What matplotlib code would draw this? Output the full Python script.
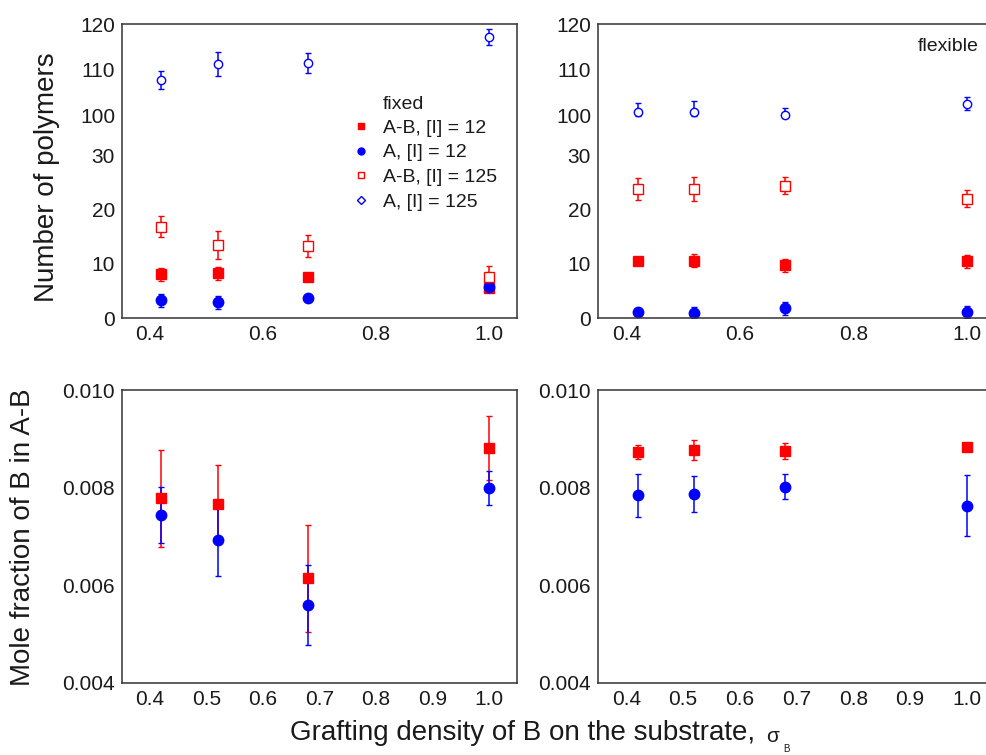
import numpy as np
import matplotlib
matplotlib.use('Agg')
import matplotlib.pyplot as plt
from matplotlib.lines import Line2D

plt.rcParams['font.family'] = ['Liberation Sans', 'DejaVu Sans']

# grafting density of B on the substrate
sigma = [0.42, 0.52, 0.68, 1.0]

# number of polymers, fixed substrate
fix_ab12 = [8.1, 8.3, 7.6, 5.5]
fix_ab12_err = [1.2, 1.2, 0.3, 0.4]
fix_a12 = [3.3, 2.9, 3.7, 5.7]
fix_a12_err = [1.2, 1.2, 0.5, 0.6]
fix_ab125 = [16.9, 13.5, 13.3, 7.6]
fix_ab125_err = [2.0, 2.6, 2.0, 2.0]
fix_a125 = [107.8, 111.3, 111.5, 117.2]
fix_a125_err = [2.0, 2.6, 2.2, 1.8]

# number of polymers, flexible substrate
flex_ab12 = [10.5, 10.6, 9.8, 10.5]
flex_ab12_err = [0.3, 1.2, 1.2, 1.2]
flex_a12 = [1.1, 1.0, 1.8, 1.1]
flex_a12_err = [0.4, 1.1, 1.2, 1.1]
flex_ab125 = [23.9, 23.9, 24.5, 22.1]
flex_ab125_err = [2.0, 2.2, 1.5, 1.5]
flex_a125 = [100.8, 100.8, 100.1, 102.6]
flex_a125_err = [2.0, 2.3, 1.5, 1.5]

# mole fraction of B in A-B
molf_fix_ab = [0.00778, 0.00767, 0.00614, 0.00881]
molf_fix_ab_err = [0.0010, 0.0008, 0.0011, 0.00065]
molf_fix_a = [0.00744, 0.00692, 0.00560, 0.00799]
molf_fix_a_err = [0.00057, 0.00073, 0.00082, 0.00035]
molf_flex_ab = [0.00873, 0.00877, 0.00875, 0.00883]
molf_flex_ab_err = [0.00015, 0.00021, 0.00016, 0.00004]
molf_flex_a = [0.00784, 0.00787, 0.00802, 0.00763]
molf_flex_a_err = [0.00044, 0.00036, 0.00026, 0.00062]

count_ticks = [0, 10, 20, 30, 100, 110, 120]
molf_ticks = [0.004, 0.006, 0.008, 0.010]

RED = '#ff0000'
BLUE = '#0000ff'
TXT = '#1a1a1a'

# broken y axis: 0-30 linear, then 100-120 squeezed
GAP = 7.46
UP = 0.8463


def fwd(v):
    v = np.asarray(v, dtype=float)
    mid = 30 + (v - 30) * GAP / 70.
    hi = 30 + GAP + (v - 100) * UP
    return np.where(v <= 30, v, np.where(v < 100, mid, hi))


def inv(u):
    u = np.asarray(u, dtype=float)
    mid = 30 + (u - 30) * 70. / GAP
    hi = 100 + (u - 30 - GAP) / UP
    return np.where(u <= 30, u, np.where(u < 30 + GAP, mid, hi))


def style(ax):
    for s in ax.spines.values():
        s.set_color('#333333')
        s.set_linewidth(1.1)
    ax.tick_params(length=0, labelsize=15, labelcolor=TXT, pad=5)
    ax.set_xlim(0.35, 1.05)


def series(ax, y, err, color, marker, filled, ms):
    ax.errorbar(sigma, y, yerr=err, fmt=marker, color=color, ecolor=color,
                elinewidth=1.1, capsize=2.5, capthick=1.1, ms=ms,
                mfc=color if filled else 'white', mec=color, mew=1.0,
                linestyle='none')


fig = plt.figure(figsize=(9.86, 7.55), dpi=100)
ax1 = fig.add_axes([0.1237, 0.5788, 0.4006, 0.3894])
ax2 = fig.add_axes([0.6065, 0.5788, 0.4026, 0.3894])
ax3 = fig.add_axes([0.1237, 0.0954, 0.4006, 0.3880])
ax4 = fig.add_axes([0.6065, 0.0954, 0.4026, 0.3880])

for ax in (ax1, ax2):
    ax.set_yscale('function', functions=(fwd, inv))
    ax.set_ylim(0, 120)
    ax.set_yticks(count_ticks)
    ax.set_yticklabels([str(t) for t in count_ticks])
    ax.set_xticks([0.4, 0.6, 0.8, 1.0])
    ax.set_xticklabels(['0.4', '0.6', '0.8', '1.0'])
    style(ax)

series(ax1, fix_ab12, fix_ab12_err, RED, 's', True, 7)
series(ax1, fix_a12, fix_a12_err, BLUE, 'o', True, 7.5)
series(ax1, fix_ab125, fix_ab125_err, RED, 's', False, 6.5)
series(ax1, fix_a125, fix_a125_err, BLUE, 'o', False, 6)

series(ax2, flex_ab12, flex_ab12_err, RED, 's', True, 7)
series(ax2, flex_a12, flex_a12_err, BLUE, 'o', True, 7.5)
series(ax2, flex_ab125, flex_ab125_err, RED, 's', False, 6.5)
series(ax2, flex_a125, flex_a125_err, BLUE, 'o', False, 6)

# legend for the fixed case
handles = [
    Line2D([], [], marker='s', ls='none', color=RED, mfc=RED, ms=5),
    Line2D([], [], marker='o', ls='none', color=BLUE, mfc=BLUE, ms=5),
    Line2D([], [], marker='s', ls='none', color=RED, mfc='white', ms=5),
    Line2D([], [], marker='D', ls='none', color=BLUE, mfc='white', ms=4),
]
labels = ['A-B, [I] = 12', 'A, [I] = 12', 'A-B, [I] = 125', 'A, [I] = 125']
ax1.legend(handles, labels, loc='upper left', bbox_to_anchor=(0.585, 0.676),
           frameon=False, fontsize=14, handlelength=0.8, handletextpad=0.73,
           labelspacing=0.36, borderpad=0, borderaxespad=0,
           labelcolor=TXT)
ax1.text(0.661, 0.727, 'fixed', transform=ax1.transAxes, fontsize=14,
         color=TXT, va='center', ha='left')
ax2.text(0.96, 0.925, 'flexible', transform=ax2.transAxes, fontsize=14,
         color=TXT, va='center', ha='right')

for ax in (ax3, ax4):
    ax.set_ylim(0.004, 0.010)
    ax.set_yticks(molf_ticks)
    ax.set_yticklabels(['%.3f' % t for t in molf_ticks])
    ax.set_xticks([0.4, 0.5, 0.6, 0.7, 0.8, 0.9, 1.0])
    ax.set_xticklabels(['0.4', '0.5', '0.6', '0.7', '0.8', '0.9', '1.0'])
    style(ax)

series(ax3, molf_fix_ab, molf_fix_ab_err, RED, 's', True, 7)
series(ax3, molf_fix_a, molf_fix_a_err, BLUE, 'o', True, 7.5)
series(ax4, molf_flex_ab, molf_flex_ab_err, RED, 's', True, 7)
series(ax4, molf_flex_a, molf_flex_a_err, BLUE, 'o', True, 7.5)

fig.text(47 / 986., 1 - 177 / 755., 'Number of polymers', rotation=90,
         ha='center', va='center', fontsize=20, color=TXT)
fig.text(23 / 986., 1 - 537 / 755., 'Mole fraction of B in A-B', rotation=90,
         ha='center', va='center', fontsize=20, color=TXT)
fig.text(290 / 986., 1 - 740 / 755., 'Grafting density of B on the substrate,',
         ha='left', va='baseline', fontsize=20, color=TXT)
fig.text(766 / 986., 1 - 742 / 755., '\u03c3', ha='left', va='baseline',
         fontsize=15, color=TXT)
fig.text(783 / 986., 1 - 744 / 755., 'B', ha='left', va='top',
         fontsize=7, color=TXT)

fig.savefig('out.png', dpi=100)
